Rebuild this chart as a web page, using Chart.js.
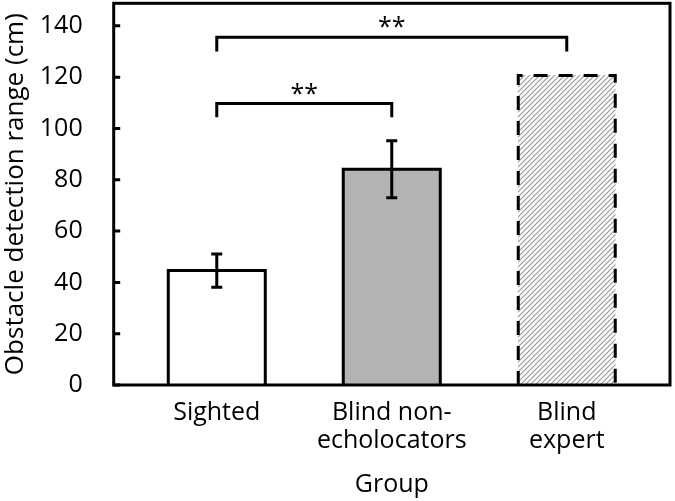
<!DOCTYPE html>
<html><head><meta charset="utf-8">
<script src="https://cdn.jsdelivr.net/npm/chart.js@4"></script>
<style>html,body{margin:0;padding:0;background:#fff;}canvas{display:block;}</style>
</head><body>
<canvas id="c" width="675" height="501"></canvas>
<script>
// ---- data ----
const categories = ['Sighted', ['Blind non-', 'echolocators'], ['Blind', 'expert']];
const categoryPos = [0, 1, 2];
const means = [44.6, 84.1, 120.7];
const errors = [6.5, 11.1, null];
const yTicks = [0, 20, 40, 60, 80, 100, 120, 140];
const bracketFrom = [0, 0];
const bracketTo = [1, 2];
const bracketTop = [109.7, 135.6];
const bracketEnd = [104.4, 130.0];
const bracketLabel = ['**', '**'];
const yTitle = 'Obstacle detection range (cm)';
const xTitle = 'Group';

const FONT = "'Open Sans', sans-serif";
const canvas = document.getElementById('c');
const ctx0 = canvas.getContext('2d');

// hatch pattern
const tile = document.createElement('canvas');
tile.width = 5; tile.height = 5;
const tc = tile.getContext('2d');
tc.fillStyle = '#fff'; tc.fillRect(0, 0, 5, 5);
tc.strokeStyle = '#9a9a9a'; tc.lineWidth = 1.2;
tc.beginPath();
tc.moveTo(-1, 6); tc.lineTo(6, -1);
tc.moveTo(-1, 1); tc.lineTo(1, -1);
tc.moveTo(4, 6); tc.lineTo(6, 4);
tc.stroke();
const hatch = ctx0.createPattern(tile, 'repeat');

const overlay = {
  id: 'overlay',
  afterDatasetsDraw(chart) {
    const { ctx, chartArea: a, scales: { x, y } } = chart;
    const meta = chart.getDatasetMeta(0);
    ctx.save();
    ctx.strokeStyle = '#000';
    ctx.lineWidth = 3;
    ctx.lineCap = 'butt';
    // bar outlines (centred on the edges)
    meta.data.forEach((bar, i) => {
      const p = bar.getProps(['x', 'y', 'width', 'base'], true);
      const l = p.x - p.width / 2, r = p.x + p.width / 2;
      ctx.setLineDash(i === 2 ? [14, 11] : []);
      ctx.beginPath();
      ctx.moveTo(l, p.base); ctx.lineTo(l, p.y); ctx.lineTo(r, p.y); ctx.lineTo(r, p.base);
      ctx.stroke();
    });
    ctx.setLineDash([]);
    // error bars
    meta.data.forEach((bar, i) => {
      if (errors[i] == null) return;
      const cx = bar.x;
      const yt = y.getPixelForValue(means[i] + errors[i]);
      const yb = y.getPixelForValue(means[i] - errors[i]);
      ctx.beginPath();
      ctx.moveTo(cx, yt); ctx.lineTo(cx, yb);
      ctx.moveTo(cx - 5.5, yt); ctx.lineTo(cx + 5.5, yt);
      ctx.moveTo(cx - 5.5, yb); ctx.lineTo(cx + 5.5, yb);
      ctx.stroke();
    });
    // significance brackets
    ctx.fillStyle = '#000';
    ctx.font = '25px ' + FONT;
    ctx.textAlign = 'center';
    ctx.textBaseline = 'alphabetic';
    bracketFrom.forEach((f, i) => {
      const x1 = x.getPixelForValue(f), x2 = x.getPixelForValue(bracketTo[i]);
      const yt = y.getPixelForValue(bracketTop[i]), ye = y.getPixelForValue(bracketEnd[i]);
      ctx.beginPath();
      ctx.moveTo(x1, ye); ctx.lineTo(x1, yt); ctx.lineTo(x2, yt); ctx.lineTo(x2, ye);
      ctx.stroke();
      ctx.fillText(bracketLabel[i], (x1 + x2) / 2, yt - 2);
    });
    // plot box
    ctx.strokeRect(a.left, a.top, a.right - a.left, a.bottom - a.top);
    // inside tick marks on y axis
    ctx.beginPath();
    yTicks.forEach(v => {
      const py = y.getPixelForValue(v);
      ctx.moveTo(a.left, py); ctx.lineTo(a.left + 6.5, py);
    });
    ctx.stroke();
    ctx.restore();
  }
};

new Chart(canvas, {
  type: 'bar',
  data: {
    datasets: [{
      data: categoryPos.map((p, i) => ({ x: p, y: means[i] })),
      backgroundColor: ['#ffffff', '#b3b3b3', hatch],
      borderWidth: 0,
      barThickness: 97
    }]
  },
  options: {
    responsive: false,
    animation: false,
    devicePixelRatio: 1,
    layout: { padding: { top: 3.3, right: 5, left: 0, bottom: 0 } },
    plugins: { legend: { display: false }, tooltip: { enabled: false } },
    scales: {
      x: {
        type: 'linear',
        offset: false,
        min: -0.589, max: 2.59,
        grid: { display: false, drawTicks: false, offset: false },
        border: { display: false },
        afterBuildTicks: s => { s.ticks = categoryPos.map(v => ({ value: v })); },
        afterFit: s => { s.height = 116; s.paddingLeft = 0; s.paddingRight = 0; },
        ticks: {
          autoSkip: false, maxRotation: 0, padding: 14,
          color: '#000',
          font: { family: FONT, size: 25, lineHeight: 1.12 },
          callback: (v) => categories[categoryPos.indexOf(v)]
        },
        title: {
          display: true, text: xTitle, color: '#000',
          font: { family: FONT, size: 25, lineHeight: 1.2 },
          padding: { top: 0, bottom: 1 }
        }
      },
      y: {
        min: 0, max: 148.8,
        grid: { display: false, drawTicks: false },
        border: { display: false },
        afterBuildTicks: s => { s.ticks = yTicks.map(v => ({ value: v })); },
        afterFit: s => { s.width = 113.7; s.paddingTop = 0; s.paddingBottom = 0; },
        ticks: {
          padding: 31, color: '#000',
          font: { family: FONT, size: 25, lineHeight: 1.2 }
        },
        title: {
          display: true, text: yTitle, color: '#000',
          font: { family: FONT, size: 26, lineHeight: 1.2 },
          padding: { top: 0, bottom: 0 }
        }
      }
    }
  },
  plugins: [overlay]
});
</script>
</body></html>
